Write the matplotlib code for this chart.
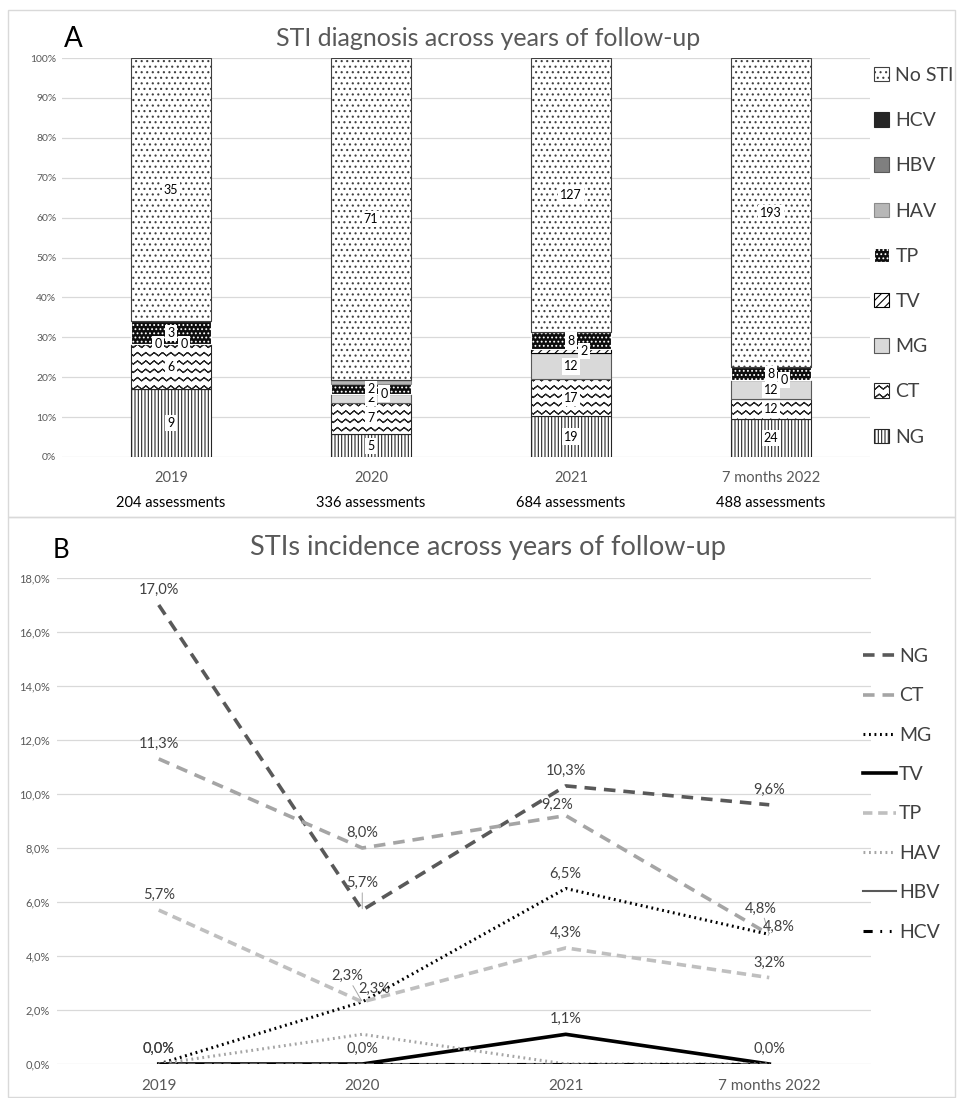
import warnings
import numpy as np
import matplotlib
matplotlib.use("Agg")
import matplotlib.pyplot as plt
import matplotlib.hatch as mhatch
from matplotlib.path import Path
from matplotlib.patches import Rectangle
from matplotlib.ticker import FuncFormatter, MultipleLocator

warnings.filterwarnings("ignore", message="hatch must consist")

# ---------------- data ----------------
years = ["2019", "2020", "2021", "7 months 2022"]
assessments = ["204 assessments", "336 assessments", "684 assessments", "488 assessments"]

# panel A: number of diagnoses (stack order bottom -> top)
ng = [9, 5, 19, 24]
ct = [6, 7, 17, 12]
mg = [0, 2, 12, 12]
tv = [0, 0, 2, 0]
tp = [3, 2, 8, 8]
hav = [0, 1, 0, 0]
hbv = [0, 0, 0, 0]
hcv = [0, 0, 0, 0]
no_sti = [35, 71, 127, 193]

# panel B: incidence (%)
inc_ng = [17.0, 5.7, 10.3, 9.6]
inc_ct = [11.3, 8.0, 9.2, 4.8]
inc_mg = [0.0, 2.3, 6.5, 4.8]
inc_tv = [0.0, 0.0, 1.1, 0.0]
inc_tp = [5.7, 2.3, 4.3, 3.2]
inc_hav = [0.0, 1.1, 0.0, 0.0]
inc_hbv = [0.0, 0.0, 0.0, 0.0]
inc_hcv = [0.0, 0.0, 0.0, 0.0]


# wavy hatch ('~'), close to the excel "wave" pattern.
# each row goes forward and back on itself so agg's hatch fill stays empty
class WaveHatch(mhatch.HatchPatternBase):
    def __init__(self, hatch, density):
        self.num_lines = int(hatch.count("~") * density)
        self.n_pts = 2 * self.num_lines + 1
        self.num_vertices = self.num_lines * self.n_pts * 2

    def set_vertices_and_codes(self, vertices, codes):
        n = self.num_lines
        xs = np.linspace(0, 1, self.n_pts)
        zig = np.tile([0.0, 1.0], n + 1)[:self.n_pts] * 0.4 / n
        m = 2 * self.n_pts
        for k in range(n):
            s = k * m
            ys = k / n + 0.3 / n + zig
            vertices[s:s + self.n_pts, 0] = xs
            vertices[s:s + self.n_pts, 1] = ys
            vertices[s + self.n_pts:s + m, 0] = xs[::-1]
            vertices[s + self.n_pts:s + m, 1] = ys[::-1]
            codes[s:s + m] = Path.LINETO
            codes[s] = Path.MOVETO


mhatch._hatch_types.append(WaveHatch)

plt.rcParams["font.family"] = ["Lato", "DejaVu Sans"]
plt.rcParams["hatch.linewidth"] = 0.8

W, H = 957, 1098
fig = plt.figure(figsize=(W / 100, H / 100), dpi=100)

# panel frames
for y0, y1 in [(10, 517), (517, 1097)]:
    fig.add_artist(Rectangle((8 / W, 1 - y1 / H), (955 - 8) / W, (y1 - y0) / H,
                             transform=fig.transFigure, fill=False,
                             edgecolor="#d9d9d9", lw=1))

# ---------------- panel A ----------------
axA = fig.add_axes([62 / W, 1 - 457 / H, 808 / W, 399 / H])

names = ["NG", "CT", "MG", "TV", "TP", "HAV", "HBV", "HCV", "No STI"]
counts = [ng, ct, mg, tv, tp, hav, hbv, hcv, no_sti]
bar_styles = {
    "NG": dict(facecolor="white", edgecolor="#262626", hatch="|||||"),
    "CT": dict(facecolor="white", edgecolor="#262626", hatch="~~"),
    "MG": dict(facecolor="#d9d9d9", edgecolor="#595959"),
    "TV": dict(facecolor="white", edgecolor="black", hatch="////"),
    "TP": dict(facecolor="#0d0d0d", edgecolor="white", hatch="...."),
    "HAV": dict(facecolor="#b7b7b7", edgecolor="#8c8c8c"),
    "HBV": dict(facecolor="#7f7f7f", edgecolor="#595959"),
    "HCV": dict(facecolor="#262626", edgecolor="#262626"),
    "No STI": dict(facecolor="white", edgecolor="#404040", hatch="..."),
}
labelled = ["NG", "CT", "MG", "TV", "TP", "No STI"]

totals = np.sum(counts, axis=0)
x = np.arange(len(years))
bottom = np.zeros(len(years))
handles = []
for name, vals in zip(names, counts):
    pct = np.array(vals) / totals * 100
    b = axA.bar(x, pct, 0.4, bottom=bottom, label=name, lw=0.8, **bar_styles[name])
    handles.append(b)
    if name in labelled:
        for i, v in enumerate(vals):
            dx = 0.0
            if name == "TV":
                dx = 0.065
            elif name == "MG" and v == 0:
                dx = -0.065
            axA.text(x[i] + dx, bottom[i] + pct[i] / 2, str(v), ha="center", va="center",
                     fontsize=9, color="black",
                     bbox=dict(facecolor="white", edgecolor="none", pad=1.5))
    bottom += pct

axA.set_ylim(0, 100)
axA.set_xlim(-0.545, 3.495)
axA.yaxis.set_major_locator(MultipleLocator(10))
axA.yaxis.set_major_formatter(FuncFormatter(lambda v, p: f"{v:.0f}%"))
axA.set_xticks(x)
axA.set_xticklabels(years)
axA.tick_params(axis="y", length=0, labelsize=7.5, labelcolor="#595959", pad=4)
axA.tick_params(axis="x", length=0, labelsize=10.5, labelcolor="#595959", pad=10)
axA.grid(axis="y", color="#d9d9d9", lw=0.9)
axA.set_axisbelow(True)
for s in axA.spines.values():
    s.set_visible(False)
for i, t in enumerate(assessments):
    axA.text(x[i], -0.116, t, transform=axA.get_xaxis_transform(), ha="center",
             va="center", fontsize=10.5, color="black")

fig.text(488 / W, 1 - 38 / H, "STI diagnosis across years of follow-up", ha="center",
         va="center", fontsize=18, color="#595959")
fig.text(73 / W, 1 - 39 / H, "A", ha="center", va="center", fontsize=20, color="black")

fig.legend(handles[::-1], names[::-1], loc="upper left", bbox_to_anchor=(874 / W, 1 - 67 / H),
           frameon=False, fontsize=14, labelcolor="#404040", handlelength=0.75,
           handleheight=0.75, handletextpad=0.35, labelspacing=1.45, borderpad=0,
           borderaxespad=0)

# ---------------- panel B ----------------
axB = fig.add_axes([57 / W, 1 - 1064 / H, 814 / W, 486 / H])

inc_names = ["NG", "CT", "MG", "TV", "TP", "HAV", "HBV", "HCV"]
inc_vals = [inc_ng, inc_ct, inc_mg, inc_tv, inc_tp, inc_hav, inc_hbv, inc_hcv]
line_styles = {
    "NG": dict(color="#595959", lw=2.6, dashes=(3.2, 2.2)),
    "CT": dict(color="#a5a5a5", lw=2.6, dashes=(3.2, 2.2)),
    "MG": dict(color="black", lw=2.2, dashes=(0.6, 1.2)),
    "TV": dict(color="black", lw=2.6),
    "TP": dict(color="#bfbfbf", lw=2.6, dashes=(2.6, 1.6)),
    "HAV": dict(color="#a5a5a5", lw=2.2, dashes=(0.6, 1.2)),
    "HBV": dict(color="#595959", lw=1.5),
    "HCV": dict(color="black", lw=2.2, dashes=(3, 2.5, 0.6, 2.5, 0.6, 2.5)),
}
line_handles = []
for name, vals in zip(inc_names, inc_vals):
    ln, = axB.plot(x, vals, label=name, **line_styles[name])
    line_handles.append(ln)

# label offsets in pixels (dx, dy, leader line)
offsets = {
    ("NG", 1): (0, 27, True),
    ("CT", 2): (-9, 11, False),
    ("CT", 3): (-8, 26, True),
    ("MG", 1): (12, 13, False),
    ("MG", 3): (10, 8, False),
    ("TP", 1): (-15, 26, True),
}
for name, vals in zip(inc_names[:5], inc_vals[:5]):
    for i, v in enumerate(vals):
        dx, dy, lead = offsets.get((name, i), (0, 15, False))
        arrow = dict(arrowstyle="-", color="#a6a6a6", lw=0.7, shrinkA=0, shrinkB=1) if lead else None
        axB.annotate(f"{v:.1f}%".replace(".", ","), (x[i], v), xytext=(dx * 0.72, dy * 0.72),
                     textcoords="offset points", ha="center", va="center", fontsize=10.5,
                     color="#404040", arrowprops=arrow)

axB.set_ylim(0, 18)
axB.set_xlim(-0.5, 3.5)
axB.yaxis.set_major_locator(MultipleLocator(2))
axB.yaxis.set_major_formatter(FuncFormatter(lambda v, p: f"{v:.1f}%".replace(".", ",")))
axB.set_xticks(x)
axB.set_xticklabels(years)
axB.tick_params(axis="y", length=0, labelsize=8, labelcolor="#595959", pad=5)
axB.tick_params(axis="x", length=0, labelsize=11, labelcolor="#595959", pad=11)
axB.grid(axis="y", color="#d9d9d9", lw=0.9)
axB.set_axisbelow(True)
for s in axB.spines.values():
    s.set_visible(False)

fig.text(488 / W, 1 - 547 / H, "STIs incidence across years of follow-up", ha="center",
         va="center", fontsize=19.5, color="#595959")
fig.text(61 / W, 1 - 550 / H, "B", ha="center", va="center", fontsize=18.5, color="black")

fig.legend(line_handles, inc_names, loc="upper left", bbox_to_anchor=(863 / W, 1 - 648 / H),
           frameon=False, fontsize=14, labelcolor="#404040", handlelength=1.7,
           handletextpad=0.15, labelspacing=1.15, borderpad=0, borderaxespad=0)

fig.savefig("out.png", dpi=100)
